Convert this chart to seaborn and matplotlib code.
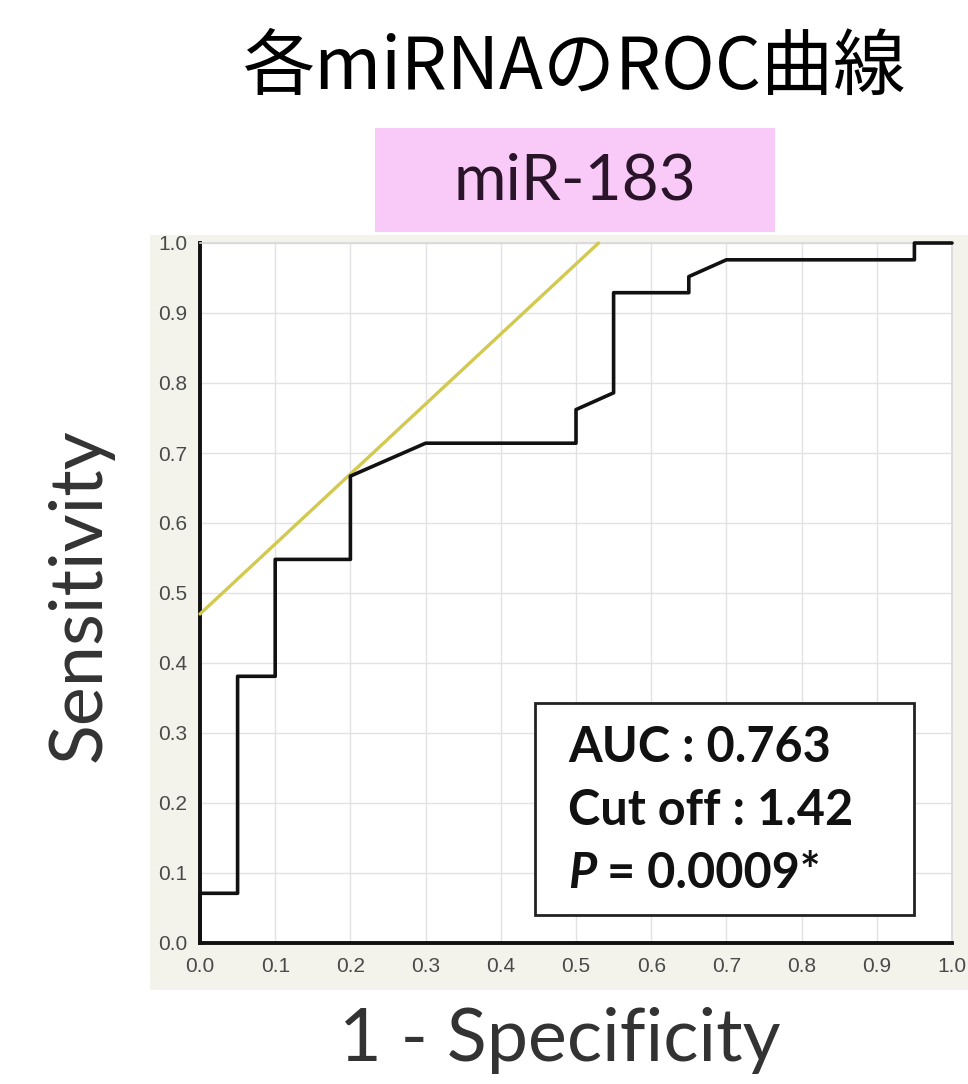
import matplotlib
matplotlib.use("Agg")
import matplotlib.pyplot as plt
from matplotlib.patches import Rectangle
import seaborn as sns
import pandas as pd

# ---- data ----
fpr = [0.0, 0.0, 0.05, 0.05, 0.10, 0.10, 0.20, 0.20, 0.30, 0.50, 0.50, 0.55, 0.55, 0.65, 0.65, 0.70, 0.95, 0.95, 1.0]
tpr = [0.0, 0.071, 0.071, 0.381, 0.381, 0.548, 0.548, 0.667, 0.714, 0.714, 0.762, 0.786, 0.929, 0.929, 0.952, 0.976, 0.976, 1.0, 1.0]
ref_x = [0.0, 0.53]
ref_y = [0.47, 1.0]
ticks = [0.0, 0.1, 0.2, 0.3, 0.4, 0.5, 0.6, 0.7, 0.8, 0.9, 1.0]
tick_labels = ["0.0", "0.1", "0.2", "0.3", "0.4", "0.5", "0.6", "0.7", "0.8", "0.9", "1.0"]
title = "各miRNAのROC曲線"
panel = "miR-183"
xlabel = "1 - Specificity"
ylabel = "Sensitivity"
stats = ["AUC : 0.763", "Cut off : 1.42"]
p_text = "0.0009*"

df = pd.DataFrame({"fpr": fpr, "tpr": tpr})
ref = pd.DataFrame({"x": ref_x, "y": ref_y})

sns.set_theme(style="white")
plt.rcParams["font.family"] = ["Lato", "DejaVu Sans"]

W, H = 968, 1084
fig = plt.figure(figsize=(W / 100, H / 100), dpi=100)
fig.patch.set_facecolor("white")

# tick-label background panel
bg = Rectangle((150 / W, 1 - 990 / H), 1 - 150 / W, (990 - 235) / H,
               transform=fig.transFigure, facecolor="#f3f3ec",
               edgecolor="none", zorder=-10)
fig.patches.append(bg)

ax = fig.add_axes([200 / W, 1 - 943 / H, 752 / W, 700 / H])
ax.set_zorder(2)
ax.set_facecolor("white")

sns.lineplot(data=ref, x="x", y="y", ax=ax, color="#d2ca50", lw=2.4,
             sort=False, estimator=None, zorder=3)
sns.lineplot(data=df, x="fpr", y="tpr", ax=ax, color="#111111", lw=2.6,
             sort=False, estimator=None, zorder=4)
for l in ax.lines:
    l.set_clip_on(False)

ax.set_xlim(0, 1)
ax.set_ylim(0, 1)
ax.set_xticks(ticks)
ax.set_yticks(ticks)
tfam = ["Liberation Sans", "DejaVu Sans"]
ax.set_xticklabels(tick_labels, fontsize=15, color="#4a4a4a", family=tfam)
ax.set_yticklabels(tick_labels, fontsize=15, color="#4a4a4a", family=tfam)
ax.tick_params(axis="x", length=0, pad=10)
ax.tick_params(axis="y", length=0, pad=9)
ax.grid(True, color="#e2e2e2", lw=1)
ax.set_axisbelow(True)
for s in ["left", "bottom"]:
    ax.spines[s].set_color("#111111")
    ax.spines[s].set_linewidth(2.8)
for s in ["top", "right"]:
    ax.spines[s].set_color("#d8d8d8")
    ax.spines[s].set_linewidth(1.2)
ax.set_xlabel("")
ax.set_ylabel("")

# stats box
ax.add_patch(Rectangle((0.445, 0.04), 0.505, 0.303, facecolor="white",
                       edgecolor="#222222", lw=2, zorder=5))
fs = 35
ax.text(0.49, 0.279, stats[0], fontsize=fs, fontweight="bold", color="#111111",
        va="center", ha="left", zorder=6)
ax.text(0.49, 0.189, stats[1], fontsize=fs, fontweight="bold", color="#111111",
        va="center", ha="left", zorder=6)
ax.text(0.49, 0.099, "P", fontsize=fs, fontweight="bold",
        fontstyle="italic", color="#111111", va="center", ha="left", zorder=6)
ax.text(0.541, 0.099, "= " + p_text, fontsize=fs, fontweight="bold", color="#111111",
        va="center", ha="left", zorder=6)

# titles
fig.text(575 / W, 1 - 68 / H, title, fontsize=52, color="black", ha="center", va="center",
         family=["Noto Sans CJK JP", "DejaVu Sans"])
fig.patches.append(Rectangle((375 / W, 1 - 232 / H), (775 - 375) / W, (232 - 128) / H,
                             transform=fig.transFigure, facecolor="#f9caf7",
                             edgecolor="none", zorder=1))
fig.text(575 / W, 1 - 181 / H, panel, fontsize=46, color="#2a142a", ha="center", va="center", zorder=2)

fig.text(80 / W, 1 - 595 / H, ylabel, fontsize=53, color="#333333", rotation=90,
         ha="center", va="center")
fig.text(560 / W, 1 - 1040 / H, xlabel, fontsize=53, color="#333333",
         ha="center", va="center")

fig.savefig("out.png", dpi=100)
